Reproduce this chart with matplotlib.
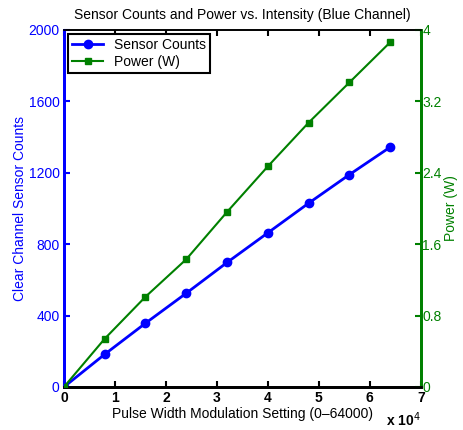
import numpy as np
import matplotlib
matplotlib.use("Agg")
import matplotlib.pyplot as plt

plt.rcParams['font.family'] = ['Liberation Sans', 'DejaVu Sans']

# PWM setting vs sensor counts / power
pwm = [0, 8000, 16000, 24000, 32000, 40000, 48000, 56000, 64000]
counts = [0, 183, 357, 525, 697, 863, 1029, 1189, 1343]
power = [0, 0.54, 1.01, 1.43, 1.96, 2.47, 2.96, 3.41, 3.86]

x_ticks = [0, 10000, 20000, 30000, 40000, 50000, 60000, 70000]
x_labels = ['0', '1', '2', '3', '4', '5', '6', '7']
count_ticks = [0, 400, 800, 1200, 1600, 2000]
power_ticks = [0, 0.8, 1.6, 2.4, 3.2, 4]
power_labels = ['0', '0.8', '1.6', '2.4', '3.2', '4']

blue = '#0000ff'
green = '#008000'

fig = plt.figure(figsize=(4.63, 4.3), dpi=100)
ax = fig.add_axes([0.138, 0.1, 0.771, 0.831])
ax2 = ax.twinx()

l1, = ax.plot(pwm, counts, '-o', color=blue, lw=2, ms=6, label='Sensor Counts', zorder=3)
l2, = ax2.plot(pwm, power, '-s', color=green, lw=1.5, ms=5, label='Power (W)', zorder=3)

ax.set_xlim(0, 70000)
ax.set_ylim(0, 2000)
ax2.set_ylim(0, 4)

ax.set_xticks(x_ticks)
ax.set_xticklabels(x_labels, fontweight='bold')
ax.set_yticks(count_ticks)
ax2.set_yticks(power_ticks)
ax2.set_yticklabels(power_labels)

ax.tick_params(axis='x', direction='in', top=True, length=4, width=1.5, labelsize=10, pad=3)
ax.tick_params(axis='y', direction='in', colors=blue, length=4, width=1.5, labelsize=10, pad=3)
ax2.tick_params(axis='y', direction='in', colors=green, length=4, width=1.5, labelsize=10, pad=1)

for a in (ax, ax2):
    a.spines['bottom'].set_linewidth(2)
    a.spines['top'].set_linewidth(1.2)
    a.spines['left'].set_color(blue)
    a.spines['left'].set_linewidth(2)
    a.spines['right'].set_color(green)
    a.spines['right'].set_linewidth(2)

ax.set_xlabel('Pulse Width Modulation Setting (0\u201364000)', fontsize=10, labelpad=1)
ax.set_ylabel('Clear Channel Sensor Counts', color=blue, fontsize=10, labelpad=1)
ax2.set_ylabel('Power (W)', color=green, fontsize=10, labelpad=2)
ax.set_title('Sensor Counts and Power vs. Intensity (Blue Channel)', fontsize=10, pad=8)

ax.text(1.0, -0.066, r'x 10$^{4}$', transform=ax.transAxes, fontsize=10,
        fontweight='bold', ha='right', va='top')

leg = ax2.legend([l1, l2], ['Sensor Counts', 'Power (W)'], loc='upper left',
                 fontsize=10, fancybox=False, framealpha=1, borderaxespad=0.3,
                 handlelength=2.2, borderpad=0.3, labelspacing=0.2)
leg.get_frame().set_edgecolor('black')
leg.get_frame().set_linewidth(1.5)

fig.savefig('out.png', dpi=100)
